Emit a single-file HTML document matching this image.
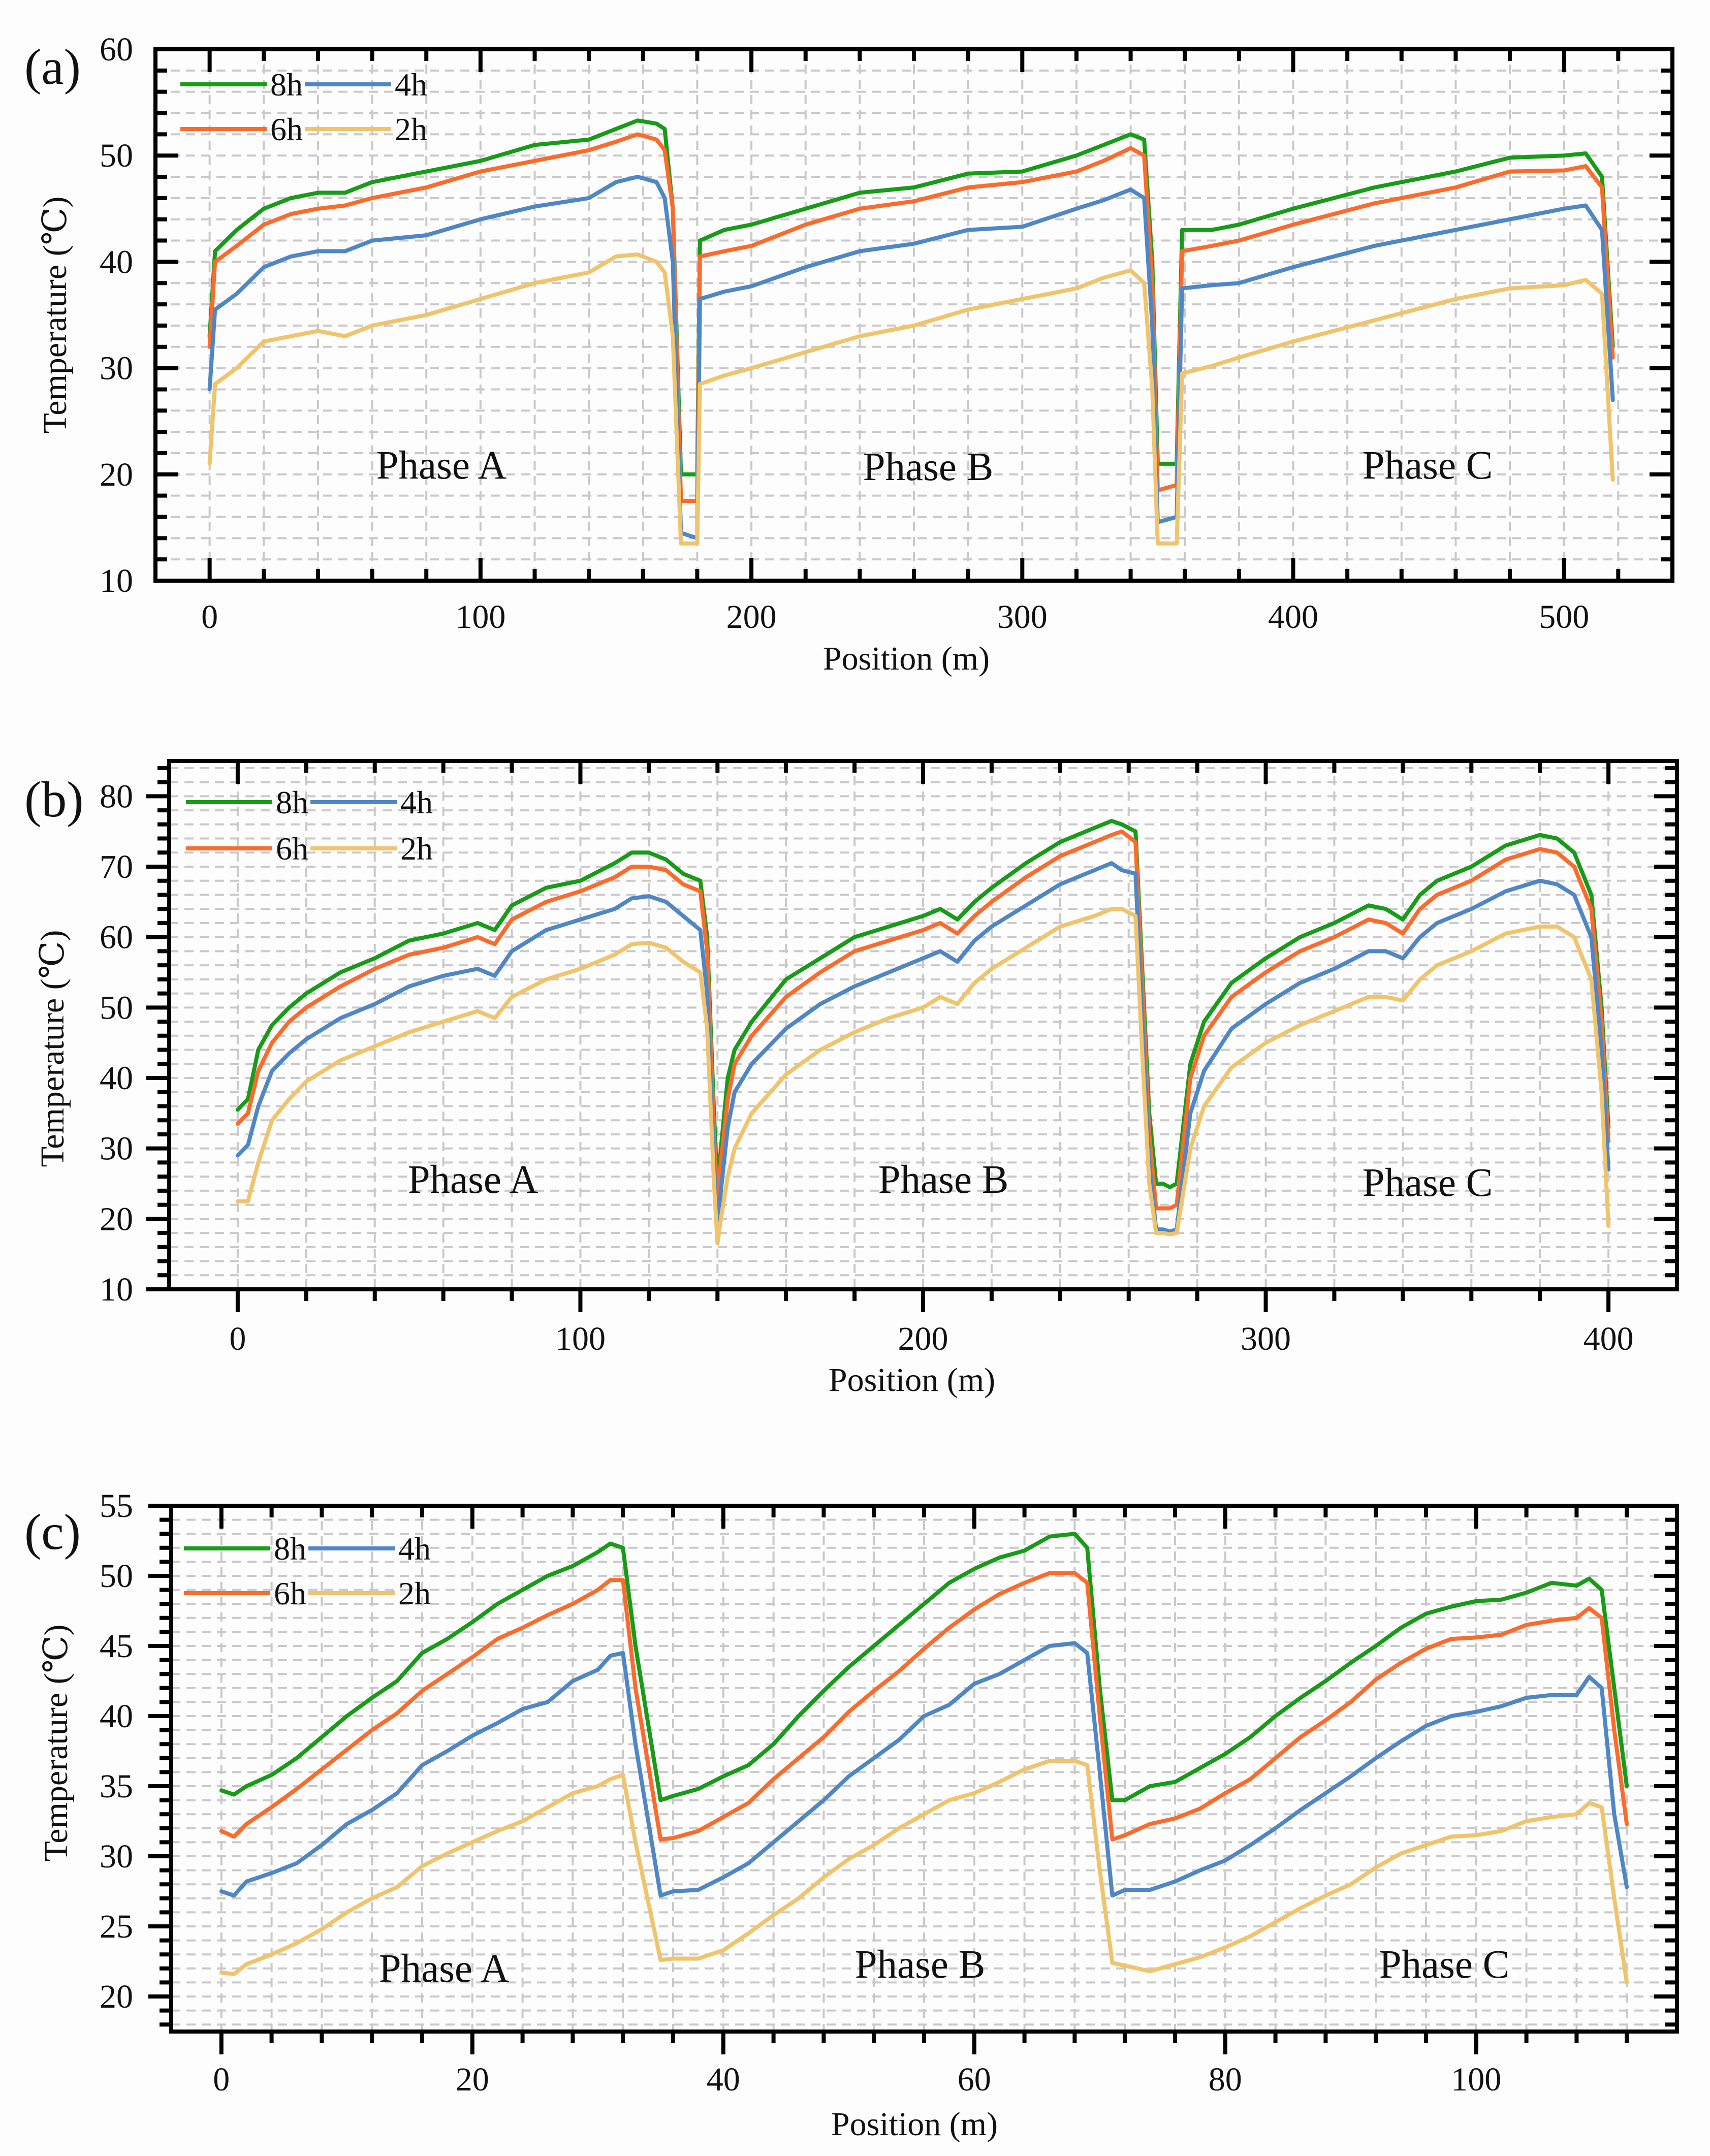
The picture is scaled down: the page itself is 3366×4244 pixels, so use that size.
<!DOCTYPE html>
<html><head><meta charset="utf-8">
<style>
html,body{margin:0;padding:0;background:#fdfdfd;}
svg{display:block;}
text{font-family:"Liberation Serif","DejaVu Serif",serif;fill:#111;}
</style></head>
<body>
<svg id="fig" xmlns="http://www.w3.org/2000/svg" width="3366" height="4244" viewBox="0 0 3366 4244">
<rect x="0" y="0" width="3366" height="4244" fill="#fdfdfd"/>
</svg>
<script>
// ---------- Panel (a) data ----------
const xA = [0,2,10,20,30,40,50,60,80,100,120,140,150,158,165,168,171,174,180,181,190,200,220,240,260,280,300,320,330,340,345,348,350,357,359,370,380,400,430,460,480,500,508,514,518];
const a8h = [33,41,43,45,46,46.5,46.5,47.5,48.5,49.5,51,51.5,52.5,53.3,53,52.5,45,20,20,42,43,43.5,45,46.5,47,48.3,48.5,50,51,52,51.5,40,21,21,43,43,43.5,45,47,48.5,49.8,50,50.2,48,32];
const a6h = [32,40,41.5,43.5,44.5,45,45.3,46,47,48.5,49.5,50.5,51.3,52,51.5,50.5,45,17.5,17.5,40.5,41,41.5,43.5,45,45.7,47,47.5,48.5,49.5,50.7,50,38,18.5,19,41,41.5,42,43.5,45.5,47,48.5,48.6,49,47,31];
const a4h = [28,35.5,37,39.5,40.5,41,41,42,42.5,44,45.2,46,47.5,48,47.5,46,40,14.5,14,36.5,37.2,37.7,39.5,41,41.7,43,43.3,45,45.8,46.8,46,34,15.5,16,37.5,37.8,38,39.5,41.5,43,44,45,45.3,43,27];
const a2h = [21,28.5,30,32.5,33,33.5,33,34,35,36.5,38,39,40.5,40.7,40,39,33,13.5,13.5,28.5,29.3,30,31.5,33,34,35.5,36.5,37.5,38.5,39.2,38,28,13.5,13.5,29.5,30.2,31,32.5,34.5,36.5,37.5,37.8,38.3,37,19.5];
const aXTicks = [0,100,200,300,400,500];
const aYTicks = [10,20,30,40,50,60];

// ---------- Panel (b) data ----------
const xB = [0,3,6,10,15,20,30,40,50,60,70,75,80,90,100,110,115,120,125,130,135,137,139,140,141,143,145,150,160,170,180,190,200,205,210,215,220,230,240,250,255,258,262,264,266,268,270,272,274,278,282,290,300,310,320,330,335,340,345,350,360,370,380,385,390,395,398,400];
const b8h = [35.5,37,44,47.5,50,52,55,57,59.5,60.5,62,61,64.5,67,68,70.5,72,72,71,69,68,60,35,24,30,40,44,48,54,57,60,61.5,63,64,62.5,65,67,70.5,73.5,75.5,76.5,76,75,55,35,25,25,24.5,25,42,48,53.5,57,60,62,64.5,64,62.5,66,68,70,73,74.5,74,72,66,50,33];
const b6h = [33.5,35,41,45,48,50,53,55.5,57.5,58.5,60,59,62.5,65,66.5,68.5,70,70,69.5,67.5,66.5,58,32,22,28,37,42,46,51.5,55,58,59.5,61,62,60.5,63,65,68.5,71.5,73.5,74.5,75,73.5,53,32,21.5,21.5,21.5,22,40,46,51.5,55,58,60,62.5,62,60.5,64,66,68,71,72.5,72,70,64,48,31];
const b4h = [29,30.5,36,41,43.5,45.5,48.5,50.5,53,54.5,55.5,54.5,58,61,62.5,64,65.5,65.8,65,63,61,52,28,17.5,24,33,38,42,47,50.5,53,55,57,58,56.5,59.5,61.5,64.5,67.5,69.5,70.5,69.5,69,48,28,18.5,18.5,18.2,18.5,35,41,47,50.5,53.5,55.5,58,58,57,60,62,64,66.5,68,67.5,66,60,44,27];
const b2h = [22.5,22.5,28,34,37,39.5,42.5,44.5,46.5,48,49.5,48.5,51.5,54,55.5,57.5,59,59.2,58.5,56.5,55,47,25,16.5,20,26,30,35,40.5,44,46.5,48.5,50,51.5,50.5,53.5,55.5,58.5,61.5,63,64,64,63,43,25,18,18,17.8,18,30,36,41.5,45,47.5,49.5,51.5,51.5,51,54,56,58,60.5,61.5,61.5,60,54,38,19];
const bXTicks = [0,100,200,300,400];
const bYTicks = [10,20,30,40,50,60,70,80];

// ---------- Panel (c) data ----------
const xC = [0,1,2,4,6,8,10,12,14,16,18,20,22,24,26,28,30,31,32,33,35,36,38,40,42,44,46,48,50,52,54,56,58,60,62,64,66,68,69,70,71,72,74,76,78,80,82,84,86,88,90,92,94,96,98,100,102,104,106,108,109,110,111,112];
const c8h = [34.7,34.4,35,35.8,37,38.5,40,41.3,42.5,44.5,45.5,46.7,48,49,50,50.7,51.7,52.3,52,45,34,34.3,34.8,35.7,36.5,38,40,41.8,43.5,45,46.5,48,49.5,50.5,51.3,51.8,52.8,53,52,42,34,34,35,35.3,36.3,37.3,38.5,40,41.3,42.5,43.8,45,46.3,47.3,47.8,48.2,48.3,48.8,49.5,49.3,49.8,49,42,35];
const c6h = [31.8,31.4,32.3,33.5,34.8,36.2,37.6,39,40.2,41.8,43,44.2,45.5,46.3,47.2,48,49,49.7,49.7,42,31.2,31.3,31.8,32.8,33.8,35.5,37,38.5,40.3,41.8,43.2,44.8,46.3,47.6,48.7,49.5,50.2,50.2,49.5,40,31.2,31.5,32.3,32.7,33.4,34.5,35.5,37,38.5,39.7,41,42.6,43.8,44.8,45.5,45.6,45.8,46.5,46.8,47,47.7,47,39,32.3];
const c4h = [27.5,27.2,28.2,28.8,29.5,30.8,32.3,33.3,34.5,36.5,37.5,38.6,39.5,40.5,41,42.5,43.3,44.3,44.5,38,27.2,27.5,27.6,28.5,29.5,31,32.5,34,35.7,37,38.3,40,40.8,42.3,43,44,45,45.2,44.5,36,27.2,27.6,27.6,28.2,29,29.7,30.8,32,33.3,34.5,35.7,37,38.2,39.3,40,40.3,40.7,41.3,41.5,41.5,42.8,42,33,27.8];
const c2h = [21.7,21.6,22.3,23,23.8,24.8,26,27,27.8,29.3,30.2,31,31.8,32.5,33.5,34.5,35,35.5,35.8,31,22.6,22.7,22.7,23.3,24.5,25.8,27,28.5,29.8,30.8,32,33,34,34.5,35.3,36.2,36.8,36.8,36.5,29,22.4,22.2,21.8,22.3,22.8,23.5,24.3,25.3,26.3,27.2,28,29.2,30.2,30.8,31.4,31.5,31.8,32.5,32.8,33,33.8,33.5,27,21];
const cXTicks = [0,20,40,60,80,100];
const cYTicks = [20,25,30,35,40,45,50,55];

const seriesNames = ['8h','6h','4h','2h'];
const seriesColors = {'8h':'#189b18','6h':'#fb6b2c','4h':'#4f87c6','2h':'#efc46c'};

const NS = 'http://www.w3.org/2000/svg';
const svg = document.getElementById('fig');
function mk(tag, attrs, parent){
  const e = document.createElementNS(NS, tag);
  for (const k in attrs) e.setAttribute(k, attrs[k]);
  (parent||svg).appendChild(e);
  return e;
}

function drawPanel(cfg){
  const g = mk('g', {});
  
  
  const L = cfg.box[0], T = cfg.box[1], R = cfg.box[2], B = cfg.box[3];
  const sx = v => L + (v - cfg.xd[0]) / (cfg.xd[1] - cfg.xd[0]) * (R - L);
  const sy = v => B - (v - cfg.yd[0]) / (cfg.yd[1] - cfg.yd[0]) * (B - T);

  const grid = mk('g', {stroke:'#c9c9c9','stroke-width':4,'stroke-dasharray':'18 12',fill:'none'}, g);
  
  
  const xMinorStart = Math.ceil(cfg.xd[0] / cfg.xMinor) * cfg.xMinor;
  for (let v = xMinorStart; v <= cfg.xd[1] + 1e-9; v += cfg.xMinor){
    const x = sx(v); if (x <= L + 4 || x >= R - 4) continue;
    mk('line', {x1:x, y1:T, x2:x, y2:B}, grid);
  }
  const yMinorStart = Math.ceil(cfg.yd[0] / cfg.yMinor) * cfg.yMinor;
  for (let v = yMinorStart; v <= cfg.yd[1] + 1e-9; v += cfg.yMinor){
    const y = sy(v); if (y <= T + 4 || y >= B - 4) continue;
    mk('line', {x1:L, y1:y, x2:R, y2:y}, grid);
  }

  const xs = cfg.x;
  cfg.series.forEach((vals, i) => {
    const name = seriesNames[i];
    let d = '';
    vals.forEach((v, j) => { d += (j ? 'L' : 'M') + sx(xs[j]).toFixed(1) + ',' + sy(v).toFixed(1); });
    const p = mk('path', {d:d, fill:'none', stroke:seriesColors[name], 'stroke-width':8, 'stroke-linejoin':'round', 'stroke-linecap':'round'}, g);
    
    
  });

  const tk = mk('g', {stroke:'#000','stroke-width':8}, g);
  
  
  for (let v = xMinorStart; v <= cfg.xd[1] + 1e-9; v += cfg.xMinor){
    const x = sx(v); if (x <= L || x >= R) continue;
    const major = Math.abs(v / cfg.xMajor - Math.round(v / cfg.xMajor)) < 1e-6;
    const len = major ? 45 : 23;
    if (cfg.bottomOut) mk('line', {x1:x, y1:B, x2:x, y2:B + len}, tk);
    else mk('line', {x1:x, y1:B, x2:x, y2:B - len}, tk);
    mk('line', {x1:x, y1:T, x2:x, y2:T + len}, tk);
  }
  for (let v = yMinorStart; v <= cfg.yd[1] + 1e-9; v += cfg.yMinor){
    const y = sy(v); if (y < T - 1 || y > B + 1) continue;
    const major = Math.abs(v / cfg.yMajor - Math.round(v / cfg.yMajor)) < 1e-6;
    const len = major ? 45 : 23;
    if (cfg.leftOut) mk('line', {x1:L, y1:y, x2:L - len, y2:y}, tk);
    else mk('line', {x1:L, y1:y, x2:L + len, y2:y}, tk);
    mk('line', {x1:R, y1:y, x2:R - len, y2:y}, tk);
  }
  const fr = mk('rect', {x:L, y:T, width:R - L, height:B - T, fill:'none', stroke:'#000', 'stroke-width':8}, g);
  
  

  cfg.xTicks.forEach(v => {
    const t = mk('text', {x:sx(v), y:cfg.xLabelY, 'text-anchor':'middle', 'font-size':66}, g);
    t.textContent = v;
    
    
  });
  cfg.yTicks.forEach(v => {
    const t = mk('text', {x:262, y:sy(v) + 22, 'text-anchor':'end', 'font-size':66}, g);
    t.textContent = v;
    
    
  });

  const xt = mk('text', {x:cfg.xTitle[0], y:cfg.xTitle[1], 'text-anchor':'middle', 'font-size':66}, g);
  xt.textContent = 'Position (m)';
  
  
  const yt = mk('text', {x:0, y:0, 'text-anchor':'middle', 'font-size':66, transform:'translate(' + cfg.yTitle[0] + ',' + cfg.yTitle[1] + ') rotate(-90)'}, g);
  yt.textContent = 'Temperature (℃)';
  
  

  const pl = mk('text', {x:48, y:cfg.letterY, 'font-size':100}, g);
  pl.textContent = '(' + cfg.id + ')';
  
  

  ['Phase A','Phase B','Phase C'].forEach((s, i) => {
    const t = mk('text', {x:cfg.phase[i][0], y:cfg.phase[i][1] + 27, 'text-anchor':'middle', 'font-size':79}, g);
    t.textContent = s;
    
    
  });

  const lg = mk('g', {}, g);
  
  
  const lx = cfg.legend[0], ly1 = cfg.legend[1], ly2 = cfg.legend[2];
  const pos = {'8h':[lx, ly1], '4h':[lx + 245, ly1], '6h':[lx, ly2], '2h':[lx + 245, ly2]};
  seriesNames.forEach(n => {
    const [x, y] = pos[n];
    const e = mk('g', {}, lg);
    
    
    mk('line', {x1:x, y1:y, x2:x + 170, y2:y, stroke:seriesColors[n], 'stroke-width':8}, e);
    const t = mk('text', {x:x + 177, y:y + 22, 'font-size':64}, e);
    t.textContent = n;
  });
}

drawPanel({id:'a', box:[306,97,3292,1143], xd:[-20,540], yd:[10,60],
  xMajor:100, xMinor:20, yMajor:10, yMinor:2, bottomOut:false, leftOut:false,
  x:xA, series:[a8h,a6h,a4h,a2h], xTicks:aXTicks, yTicks:aYTicks,
  xLabelY:1236, xTitle:[1784,1318], yTitle:[130,620], letterY:165,
  phase:[[869,915],[1827,918],[2810,915]], legend:[355,166,254]});

drawPanel({id:'b', box:[333,1498,3301,2538], xd:[-20,420], yd:[10,85],
  xMajor:100, xMinor:20, yMajor:10, yMinor:2, bottomOut:true, leftOut:true,
  x:xB, series:[b8h,b6h,b4h,b2h], xTicks:bXTicks, yTicks:bYTicks,
  xLabelY:2657, xTitle:[1795,2738], yTitle:[125,2064], letterY:1607,
  phase:[[931,2321],[1857,2321],[2810,2327]], legend:[366,1579,1670]});

drawPanel({id:'c', box:[337,2964,3301,3999], xd:[-4,116], yd:[17.5,55],
  xMajor:20, xMinor:4, yMajor:5, yMinor:1, bottomOut:true, leftOut:true,
  x:xC, series:[c8h,c6h,c4h,c2h], xTicks:cXTicks, yTicks:cYTicks,
  xLabelY:4115, xTitle:[1800,4203], yTitle:[132,3431], letterY:3049,
  phase:[[874,3874],[1811,3866],[2843,3866]], legend:[362,3048,3136]});
</script>
</body></html>
